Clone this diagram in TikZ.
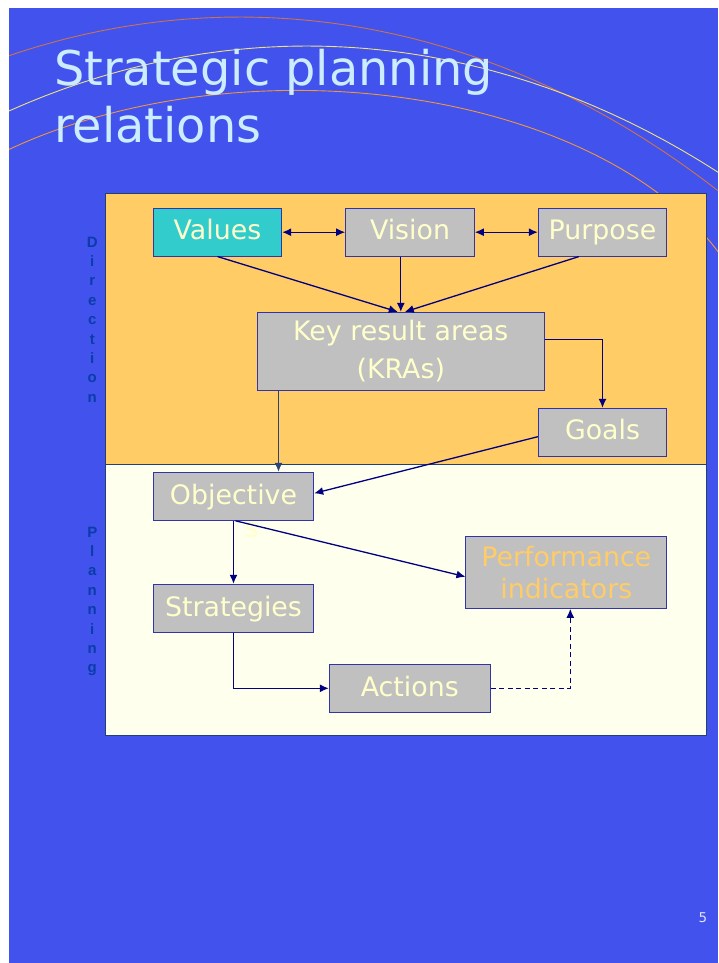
\documentclass[tikz,border=0pt]{standalone}
\usepackage{fontspec}
\setmainfont{DejaVu Sans}
\newfontfamily\sidefont{Liberation Sans}
\usetikzlibrary{arrows.meta}
\definecolor{bgblue}{RGB}{66,82,237}
\definecolor{titlecol}{RGB}{204,236,255}
\definecolor{dirfill}{RGB}{255,204,102}
\definecolor{planfill}{RGB}{255,255,238}
\definecolor{panelline}{RGB}{35,65,110}
\definecolor{boxgray}{RGB}{192,192,192}
\definecolor{boxteal}{RGB}{51,204,204}
\definecolor{boxline}{RGB}{51,51,170}
\definecolor{boxtext}{RGB}{255,255,204}
\definecolor{perftext}{RGB}{255,204,102}
\definecolor{navy}{RGB}{0,0,128}
\definecolor{slate}{RGB}{40,70,120}
\definecolor{sideblue}{RGB}{10,60,170}
\definecolor{pagecol}{RGB}{225,225,255}
\definecolor{arcA}{RGB}{205,115,75}
\definecolor{arcB}{RGB}{240,225,130}
\definecolor{arcC}{RGB}{240,150,60}
\tikzset{
  box/.style={draw=boxline, line width=1pt, fill=boxgray, inner sep=0pt,
    text=boxtext, align=center, font={\fontsize{26.8}{30}\selectfont}},
  oneline/.style={text height=18pt, text depth=2.5pt},
  arr/.style={draw=navy, line width=1.3pt, -{Latex[length=9pt,width=8pt]}},
  darr/.style={draw=navy, line width=1.3pt, {Latex[length=9pt,width=8pt]}-{Latex[length=9pt,width=8pt]}},
  panel/.style={draw=panelline, line width=1pt},
  side/.style={text=sideblue, align=center, inner sep=0pt, anchor=north,
    font={\fontsize{15}{19.4}\sidefont\bfseries}},
  arcline/.style={line width=0.9pt}
}
\begin{document}
\begin{tikzpicture}[x=1pt,y=-1pt]
\useasboundingbox (0,0) rectangle (718,963);
\fill[white] (0,0) rectangle (718,963);
\fill[bgblue] (9,8) rectangle (718,963);
% decorative arcs
\begin{scope}
\clip (9,8) rectangle (718,963);
\draw[arcline, draw=arcA] plot[domain=-16:32, samples=90, smooth] ({240+1000*sin(\x)}, {1445-1428*cos(\x)});
\draw[arcline, draw=arcB] plot[domain=-20:28, samples=90, smooth] ({307+1000*sin(\x)}, {1474-1428*cos(\x)});
\draw[arcline, draw=arcC] plot[domain=-42:68, samples=120, smooth] ({296.5+460*sin(\x)}, {359.4-269*cos(\x)});
\end{scope}
% title
\node[anchor=north west, inner sep=0pt, align=left, text=titlecol,
  font={\fontsize{47.8}{56.7}\selectfont}] (title) at (54,48.9) {Strategic planning\\relations};
% panels
\draw[panel, fill=dirfill] (105,193) rectangle (706,464);
\draw[panel, fill=planfill] (105,464) rectangle (706,735);
% side labels
\node[side] (dirlab) at (92.3,236.6) {D\\i\\r\\e\\c\\t\\i\\o\\n};
\node[side] (planlab) at (92.3,526.6) {P\\l\\a\\n\\n\\i\\n\\g};
% boxes
\node[box, oneline, fill=boxteal, minimum width=128.4pt, minimum height=47.7pt] (values) at (217.5,232.2) {Values};
\node[box, oneline, minimum width=128.6pt, minimum height=47.7pt] (vision) at (410,232.2) {Vision};
\node[box, oneline, minimum width=128.4pt, minimum height=47.7pt] (purpose) at (602.5,232.2) {Purpose};
\node[box, minimum width=287pt, minimum height=77.7pt, font={\fontsize{26.8}{38.5}\selectfont}] (kra) at (400.8,351.2) {Key result areas\\(KRAs)};
\node[box, oneline, minimum width=128.4pt, minimum height=47.7pt] (goals) at (602.5,432.2) {Goals};
\node[box, oneline, minimum width=160.4pt, minimum height=48pt] (obj) at (233.5,496.3) {Objective};
\node[text=boxtext, inner sep=0pt, font={\fontsize{26.8}{30}\selectfont}] (sfrag) at (251.5,530) {s};
\node[box, oneline, minimum width=160.4pt, minimum height=48pt] (strat) at (233.5,608.3) {Strategies};
\node[box, oneline, minimum width=161pt, minimum height=48pt] (act) at (409.8,688.3) {Actions};
\node[box, text=perftext, minimum width=200.7pt, minimum height=72pt, font={\fontsize{26.8}{32}\selectfont}] (perf) at (566.3,572.3) {Performance\\indicators};
% connectors
\draw[darr] (values.east) -- (vision.west);
\draw[darr] (vision.east) -- (purpose.west);
\draw[arr] (values.south) -- ([xshift=-3pt]kra.north);
\draw[arr] (vision.south -| kra.north) -- (kra.north);
\draw[arr] ([xshift=-23.5pt]purpose.south) -- ([xshift=4pt]kra.north);
\draw[arr] ([yshift=12pt]kra.east) -| (goals.north);
\coordinate (kb) at ([xshift=21.7pt]kra.south west);
\draw[arr, draw=slate] (kb) -- (kb |- obj.north);
\draw[arr] ([yshift=-4.5pt]goals.west) -- ([yshift=3pt]obj.east);
\draw[arr] (obj.south) -- (strat.north);
\draw[arr] ([xshift=2pt]obj.south) -- ([yshift=-4.4pt]perf.west);
\draw[arr] (strat.south) |- (act.west);
\draw[arr, dash pattern=on 5pt off 3.5pt] (act.east) -| ([xshift=4pt]perf.south);
% page number
\node[text=pagecol, inner sep=0pt, font={\fontsize{13.5}{16}\selectfont}] (pnum) at (703,918) {5};
\end{tikzpicture}
\end{document}
